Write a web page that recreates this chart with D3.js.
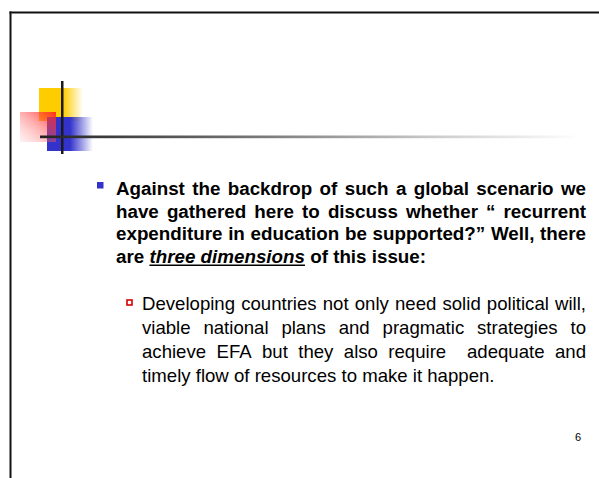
<!DOCTYPE HTML>
<html lang="en">
  <head>
    <meta charset="utf-8">
    <style>
      body{
	  margin: 0;
	  background: #fff;
      }
      text{
	  font-family: "Liberation Sans", Arial, sans-serif;
	  fill: #000;
      }
    </style>
  </head>
  <body>
    <script src="https://d3js.org/d3.v7.min.js"></script>
    <script>

      // slide text, one entry per printed line (words between _ _ are italic + underlined)
      var mainLines = [
	  "Against the backdrop of such a global scenario we",
	  "have gathered here to discuss whether \u201c recurrent",
	  "expenditure in education be supported?\u201d Well, there",
	  "are _three dimensions_ of this issue:"
      ];
      var subLines = [
	  "Developing countries not only need solid political will,",
	  "viable national plans and pragmatic strategies to",
	  "achieve EFA but they also require  adequate and",
	  "timely flow of resources to make it happen."
      ];
      var pageNumber = "6";

      var w = 599, h = 478;

      var svg = d3.select("body").append("svg")
	  .attr("width", w)
	  .attr("height", h);

      var defs = svg.append("defs");

      // helper for horizontal / diagonal fades
      function grad(id, x1, y1, x2, y2, stops){
	  var g = defs.append("linearGradient").attr("id", id)
	      .attr("x1", x1).attr("y1", y1).attr("x2", x2).attr("y2", y2);
	  stops.forEach(function(s){
	      g.append("stop").attr("offset", s[0])
		  .attr("stop-color", s[1]).attr("stop-opacity", s[2]);
	  });
      }
      grad("yellowFade", 0, 0, 1, 0, [[0, "#ffcc00", 1], [0.55, "#ffcc00", 1], [1, "#ffcc00", 0]]);
      grad("blueFade", 0, 0, 1, 0, [[0, "#3333cc", 1], [0.5, "#3333cc", 1], [1, "#3333cc", 0]]);
      grad("pinkFade", 1, 0, 0, 1, [[0, "#ff2020", 0.9], [0.5, "#ff5050", 0.45], [1, "#ff9090", 0.12]]);
      grad("ruleFade", 0, 0, 1, 0, [[0, "#222", 1], [0.4, "#777", 1], [0.75, "#d0d0d0", 1], [1, "#fff", 1]]);

      //******FRAME******
      svg.append("rect").attr("x", 9.5).attr("y", 11.5).attr("width", w - 9.5).attr("height", 2).attr("fill", "#111");
      svg.append("rect").attr("x", 9.5).attr("y", 11.5).attr("width", 2).attr("height", h - 11.5).attr("fill", "#111");

      //******LOGO******
      var logo = svg.append("g");
      logo.append("rect").attr("x", 39).attr("y", 88).attr("width", 44).attr("height", 33).attr("fill", "url(#yellowFade)");
      logo.append("rect").attr("x", 47).attr("y", 117).attr("width", 46).attr("height", 34).attr("fill", "url(#blueFade)");
      logo.append("rect").attr("x", 20).attr("y", 112).attr("width", 36).attr("height", 30).attr("fill", "url(#pinkFade)");
      logo.append("rect").attr("x", 61).attr("y", 81).attr("width", 2.5).attr("height", 73).attr("fill", "#1a1a1a");
      // title rule
      svg.append("rect").attr("x", 40).attr("y", 135.5).attr("width", 542).attr("height", 2.7).attr("fill", "url(#ruleFade)");

      //******TEXT******
      // justified paragraph, words can be squeezed horizontally like the original
      function paragraph(lines, o){
	  var g = svg.append("g")
	      .style("font-size", o.size + "px")
	      .style("font-weight", o.weight);
	  var space = 0.278 * o.size * o.squeeze;

	  lines.forEach(function(line, i){
	      var y = o.y0 + i * o.lh;
	      var italic = false;
	      var words = line.split(" ").map(function(t){
		  var it = italic || t.charAt(0) == "_";
		  if (t.charAt(0) == "_") italic = true;
		  if (t.charAt(t.length - 1) == "_") italic = false;
		  return {t: t.replace(/_/g, ""), it: it};
	      });

	      words.forEach(function(d){
		  d.el = g.append("text").attr("y", y)
		      .style("font-style", d.it ? "italic" : "normal")
		      .text(d.t);
		  var len = d.el.node().getComputedTextLength();
		  d.w = len * o.squeeze;
		  if (len > 0 && o.squeeze != 1) d.el.attr("textLength", d.w).attr("lengthAdjust", "spacingAndGlyphs");
	      });

	      var total = d3.sum(words, function(d){ return d.w; });
	      var last = i == lines.length - 1;
	      var gap = last ? space : (o.x1 - o.x0 - total) / (words.length - 1);

	      var x = o.x0, u0 = null, u1 = null;
	      words.forEach(function(d){
		  d.el.attr("x", x);
		  if (d.it){
		      if (u0 === null) u0 = x;
		      u1 = x + d.w;
		  }
		  x += d.w + gap;
	      });
	      if (u0 !== null){
		  g.append("line")
		      .attr("x1", u0).attr("x2", u1)
		      .attr("y1", y + 2.5).attr("y2", y + 2.5)
		      .attr("stroke", "#000").attr("stroke-width", 1.4);
	      }
	  });
      }

      paragraph(mainLines, {x0: 116, x1: 586, y0: 195, lh: 22.6, size: 18.8, weight: "bold", squeeze: 1});
      paragraph(subLines, {x0: 142, x1: 586, y0: 310, lh: 24, size: 18.6, weight: "normal", squeeze: 1});

      // bullets
      svg.append("rect").attr("x", 97).attr("y", 182).attr("width", 6.5).attr("height", 6.5).attr("fill", "#3333cc");
      svg.append("rect").attr("x", 127).attr("y", 300).attr("width", 5).attr("height", 5)
	  .attr("fill", "#fff").attr("stroke", "#d40000").attr("stroke-width", 1.6);

      // slide number
      svg.append("text")
	  .attr("x", 575).attr("y", 441)
	  .style("font-size", "11px")
	  .text(pageNumber);

    </script>
  </body>
</html>
